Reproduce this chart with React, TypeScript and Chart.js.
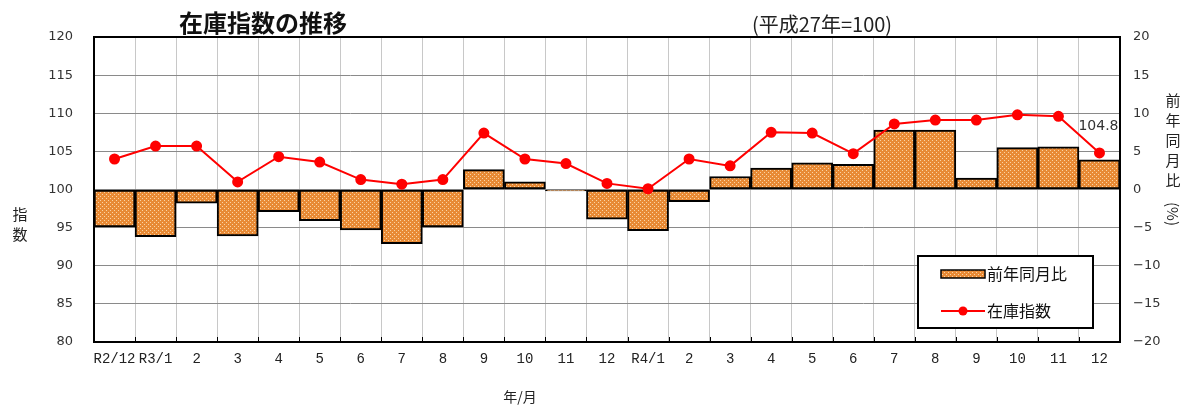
import { useEffect, useRef } from 'react';
import { Chart, registerables } from 'chart.js';

Chart.register(...registerables);

const categories = ['R2/12', 'R3/1', '2', '3', '4', '5', '6', '7', '8', '9', '10', '11', '12', 'R4/1', '2', '3', '4', '5', '6', '7', '8', '9', '10', '11', '12'];
const indexValues = [104.0, 105.7, 105.7, 101.0, 104.3, 103.6, 101.3, 100.7, 101.3, 107.4, 104.0, 103.4, 100.8, 100.1, 104.0, 103.1, 107.5, 107.4, 104.7, 108.6, 109.1, 109.1, 109.8, 109.6, 104.8];
const yoyValues = [-4.9, -6.2, -1.8, -6.1, -2.9, -4.1, -5.3, -7.1, -4.9, 2.6, 1.0, -0.2, -3.9, -5.4, -1.6, 1.7, 2.8, 3.5, 3.3, 7.8, 7.8, 1.5, 5.5, 5.6, 3.9];
const leftRange = [80, 120];
const rightRange = [-20, 20];
const lastLabel = '104.8';
const titleText = '在庫指数の推移';
const subtitleText = '(平成27年=100)';
const barLabel = '前年同月比';
const lineLabel = '在庫指数';

const JP = '"Noto Sans CJK JP", "DejaVu Sans", sans-serif';

export default function App() {
  const ref = useRef<HTMLCanvasElement>(null);
  useEffect(() => {
    const canvas = ref.current!;
    const ctx = canvas.getContext('2d')!;
    const pc = document.createElement('canvas');
    pc.width = 4;
    pc.height = 4;
    const p = pc.getContext('2d')!;
    p.fillStyle = '#E88A35';
    p.fillRect(0, 0, 4, 4);
    p.fillStyle = '#FAD4A4';
    p.fillRect(0, 0, 1, 1);
    p.fillRect(2, 2, 1, 1);
    const pattern = ctx.createPattern(pc, 'repeat')!;

    const overlay = {
      id: 'overlay',
      afterDraw(chart: any) {
        const c = chart.ctx;
        const a = chart.chartArea;
        c.save();
        const xs = chart.scales.x;
        c.strokeStyle = '#000';
        c.lineWidth = 1;
        for (let i = 0; i <= categories.length; i++) {
          const x = Math.round(xs.left + (xs.width * i) / categories.length) + 0.5;
          c.beginPath();
          c.moveTo(x, a.bottom);
          c.lineTo(x, a.bottom - 5);
          c.stroke();
        }
        c.lineWidth = 2;
        c.strokeStyle = '#000';
        c.strokeRect(a.left, a.top, a.right - a.left, a.bottom - a.top);
        c.fillStyle = '#111';
        c.font = `bold 24px ${JP}`;
        c.textBaseline = 'middle';
        c.textAlign = 'left';
        c.fillText(titleText, 179, 23);
        c.font = `20px ${JP}`;
        c.fillStyle = '#222';
        c.fillText(subtitleText, 752, 24);
        c.font = `15px ${JP}`;
        c.textAlign = 'center';
        c.fillText('指', 20, 214);
        c.fillText('数', 20, 234);
        const rt = ['前', '年', '同', '月', '比'];
        rt.forEach((ch, i) => c.fillText(ch, 1173, 100 + i * 20));
        c.save();
        c.translate(1173, 214);
        c.rotate(Math.PI / 2);
        c.fillText('(%)', 0, 0);
        c.restore();
        c.font = `14px ${JP}`;
        c.fillText('年/月', 520, 397);
        const ys = chart.scales.y;
        const lx = xs.getPixelForValue(categories.length - 1);
        const ly = ys.getPixelForValue(indexValues[indexValues.length - 1]);
        c.font = '14px "DejaVu Sans", sans-serif';
        c.fillStyle = '#333';
        c.fillText(lastLabel, lx - 1, ly - 27);
        c.fillStyle = '#fff';
        c.fillRect(918, 256, 175, 72);
        c.lineWidth = 2;
        c.strokeStyle = '#000';
        c.strokeRect(918, 256, 175, 72);
        c.fillStyle = pattern;
        c.fillRect(941, 270, 44, 8);
        c.lineWidth = 1.5;
        c.strokeRect(941, 270, 44, 8);
        c.fillStyle = '#111';
        c.font = `16px ${JP}`;
        c.textAlign = 'left';
        c.fillText(barLabel, 987, 274);
        c.strokeStyle = '#FF0000';
        c.lineWidth = 2;
        c.beginPath();
        c.moveTo(941, 311);
        c.lineTo(985, 311);
        c.stroke();
        c.fillStyle = '#FF0000';
        c.beginPath();
        c.arc(963, 311, 4.5, 0, Math.PI * 2);
        c.fill();
        c.fillStyle = '#111';
        c.fillText(lineLabel, 987, 311);
        c.restore();
      },
    };

    const chart = new Chart(canvas, {
      type: 'bar',
      data: {
        labels: categories,
        datasets: [
          {
            type: 'line',
            label: lineLabel,
            data: indexValues,
            yAxisID: 'y',
            borderColor: '#FF0000',
            backgroundColor: '#FF0000',
            borderWidth: 2,
            pointRadius: 4.5,
            pointBackgroundColor: '#FF0000',
            pointBorderColor: '#FF0000',
            tension: 0,
            order: 0,
          } as any,
          {
            type: 'bar',
            label: barLabel,
            data: yoyValues,
            yAxisID: 'y1',
            backgroundColor: pattern as any,
            borderColor: '#000',
            borderWidth: 2,
            borderSkipped: false,
            barPercentage: 1,
            categoryPercentage: 1,
            order: 1,
          } as any,
        ],
      },
      options: {
        responsive: false,
        animation: false,
        layout: { padding: { top: 37, left: 0, right: 0, bottom: 0 } },
        plugins: { legend: { display: false }, tooltip: { enabled: false }, title: { display: false } },
        scales: {
          x: {
            offset: true,
            grid: { offset: true, color: '#C8C8C8', lineWidth: 1, drawTicks: false },
            border: { display: false },
            ticks: {
              autoSkip: false,
              maxRotation: 0,
              minRotation: 0,
              padding: 9,
              color: '#222',
              font: { family: '"Liberation Mono", monospace', size: 14 },
            },
            afterFit: (s: any) => { s.height = 65; },
          },
          y: {
            position: 'left',
            min: leftRange[0],
            max: leftRange[1],
            ticks: { stepSize: 5, padding: 21, color: '#333', font: { family: '"DejaVu Sans", sans-serif', size: 13 } },
            grid: { color: '#8A8A8A', lineWidth: 1, drawTicks: false },
            border: { display: false },
            afterFit: (s: any) => { s.width = 94; },
          },
          y1: {
            position: 'right',
            min: rightRange[0],
            max: rightRange[1],
            ticks: {
              stepSize: 5,
              padding: 13,
              color: '#333',
              font: { family: '"DejaVu Sans", sans-serif', size: 13 },
              callback: (v: any) => String(v).replace('-', '−'),
            },
            grid: { drawOnChartArea: false, drawTicks: false },
            border: { display: false },
            afterFit: (s: any) => { s.width = 62; },
          },
        },
      },
      plugins: [overlay],
    });
    return () => chart.destroy();
  }, []);
  return (
    <canvas
      ref={ref}
      width={1182}
      height={407}
      style={{ position: 'absolute', left: 0, top: 0, width: 1182, height: 407, background: '#fff' }}
    />
  );
}
